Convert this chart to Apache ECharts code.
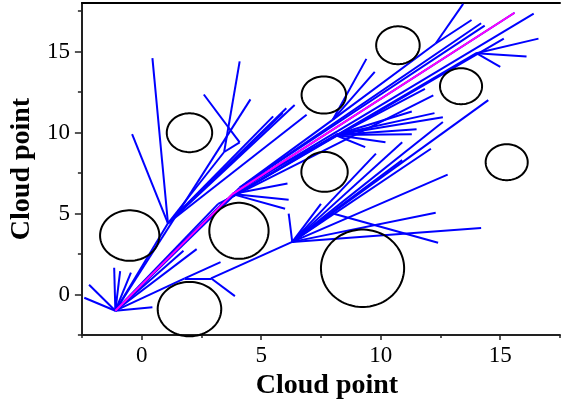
<!DOCTYPE html>
<html><head><meta charset="utf-8">
<script src="https://cdn.jsdelivr.net/npm/echarts@6/dist/echarts.min.js"></script>
<style>html,body{margin:0;padding:0;background:#fff}#c{width:563px;height:405px}</style>
</head><body><div id="c"></div>
<script>
// Axis ticks
const xMajorTicks = [0, 5, 10, 15];
const xMinorTicks = [-2.5, 2.5, 7.5, 12.5, 17.5];
const yMajorTicks = [0, 5, 10, 15];
const yMinorTicks = [-2.5, 2.5, 7.5, 12.5, 17.5];

// Obstacles (ellipse centres and radii in data units)
const obstacleX  = [2.0, 10.72, 7.62, 13.36, 7.65, 15.27, -0.5, 4.07, 2.0, 9.24];
const obstacleY  = [9.99, 15.39, 12.32, 12.86, 7.57, 8.17, 3.64, 3.93, -0.9, 1.62];
const obstacleRx = [0.95, 0.91, 0.93, 0.88, 0.97, 0.88, 1.24, 1.24, 1.33, 1.74];
const obstacleRy = [1.2, 1.17, 1.15, 1.11, 1.23, 1.11, 1.56, 1.73, 1.68, 2.39];

// Tree nodes (x, y, parent index)
const nodeX = [-1.1, -2.4, -2.2, -1.15, -0.9, -0.45, 0.45, 1.8, 3.3, 2.9,
               3.9, 6.3, 1.75, 2.3, 1.1, -0.4, 0.45, 5.5, 5.9, 6.05,
               6.4, 6.9, 3.45, 4.1, 4.1, 2.6, 4.55, 3.8, 4.1, 3.5,
               4.4, 3.2, 14.2, 14.35, 12.3, 13.45, 13.8, 16.4, 15.6, 14.0,
               16.1, 16.6, 15.0, 15.15, 11.85, 12.2, 8.0, 9.4, 9.75, 8.1,
               9.35, 10.2, 11.3, 11.5, 11.3, 12.25, 12.6, 12.6, 6.1, 6.15,
               6.0, 6.15, 7.5, 9.8, 10.9, 12.1, 14.5, 12.8, 12.3, 14.2,
               8.0, 12.4, 10.9];
const nodeY = [-1.0, -0.2, 0.6, 1.65, 1.45, 1.35, -0.78, 1.0, 2.0, 1.0,
               -0.1, 3.25, 2.7, 2.8, 4.4, 9.9, 14.6, 11.0, 11.2, 11.5,
               11.7, 11.1, 8.8, 14.4, 9.4, 12.35, 12.05, 6.2, 6.6, 5.8,
               6.9, 5.6, 16.75, 16.6, 15.5, 17.95, 16.95, 17.35, 17.4, 14.9,
               14.7, 15.8, 14.05, 15.8, 12.7, 12.3, 10.8, 14.55, 13.75, 9.85,
               9.1, 9.4, 9.9, 10.2, 11.3, 11.2, 10.95, 10.65, 6.85, 5.85,
               5.3, 5.0, 5.6, 8.7, 9.4, 9.0, 12.0, 7.4, 5.05, 4.1,
               5.0, 3.2, 8.3];
const nodeParent = [-1, 0, 0, 0, 0, 0, 0, 0, 7, 7,
                    9, 9, 0, 0, 0, 14, 14, 14, 14, 14,
                    14, 14, 14, 22, 22, 24, 0, 0, 0, 0,
                    0, 0, 28, 30, 46, 34, 34, 27, 27, 29,
                    39, 39, 39, 29, 30, 31, 28, 46, 46, 29,
                    49, 49, 49, 49, 49, 49, 49, 11, 27, 27,
                    27, 11, 11, 11, 11, 11, 11, 11, 11, 11,
                    11, 70, 11];

// Final path
const pathX = [-1.1, 3.8, 15.6];
const pathY = [-1.0, 6.2, 17.4];

const edges = [];
for (let i = 0; i < nodeX.length; i++) {
  const p = nodeParent[i];
  if (p >= 0) edges.push({coords: [[nodeX[p], nodeY[p]], [nodeX[i], nodeY[i]]]});
}
const obstacles = obstacleX.map((x, i) => [x, obstacleY[i], obstacleRx[i], obstacleRy[i]]);
const pathData = pathX.map((x, i) => [x, pathY[i]]);

const serif = 'Liberation Serif, Times New Roman, serif';
const axisCol = '#222';
function mkX(idx, extra) {
  return Object.assign({
    type: 'value', min: -2.5, max: 17.5, gridIndex: 0,
    splitLine: {show: false}
  }, extra);
}
function mkY(extra) {
  return Object.assign({
    type: 'value', min: -2.5, max: 18, gridIndex: 0,
    splitLine: {show: false}
  }, extra);
}

const chart = echarts.init(document.getElementById('c'), null, {renderer: 'canvas'});
chart.setOption({
  animation: false,
  backgroundColor: '#fff',
  grid: {left: 78, right: 3, top: 3, bottom: 70, containLabel: false},
  xAxis: [
    mkX(0, {
      position: 'bottom',
      axisLine: {show: true, onZero: false, lineStyle: {color: axisCol, width: 2}},
      axisTick: {show: true, customValues: xMajorTicks, length: 5, lineStyle: {color: axisCol, width: 1.5}},
      axisLabel: {customValues: xMajorTicks, fontFamily: serif, fontSize: 23, color: '#000', margin: 9},
      name: 'Cloud point', nameLocation: 'middle', nameGap: 33,
      nameTextStyle: {fontFamily: serif, fontSize: 28, fontWeight: 'bold', color: '#000', padding: [0, 0, 0, 12]}
    }),
    mkX(1, {
      position: 'bottom',
      axisLine: {show: false, onZero: false},
      axisTick: {show: true, customValues: xMinorTicks, length: 3, lineStyle: {color: axisCol, width: 1.5}},
      axisLabel: {show: false}
    }),
    mkX(2, {
      position: 'top',
      axisLine: {show: true, onZero: false, lineStyle: {color: '#000', width: 2}},
      axisTick: {show: false},
      axisLabel: {show: false}
    })
  ],
  yAxis: [
    mkY({
      position: 'left',
      axisLine: {show: true, onZero: false, lineStyle: {color: axisCol, width: 2}},
      axisTick: {show: true, customValues: yMajorTicks, length: 7, lineStyle: {color: axisCol, width: 1.5}},
      axisLabel: {customValues: yMajorTicks, fontFamily: serif, fontSize: 23, color: '#000', margin: 12},
      name: 'Cloud point', nameLocation: 'middle', nameGap: 40, nameRotate: 90,
      nameTextStyle: {fontFamily: serif, fontSize: 28, fontWeight: 'bold', color: '#000'}
    }),
    mkY({
      position: 'left',
      axisLine: {show: false, onZero: false},
      axisTick: {show: true, customValues: yMinorTicks, length: 4, lineStyle: {color: axisCol, width: 1.5}},
      axisLabel: {show: false}
    })
  ],
  series: [
    {
      type: 'lines', coordinateSystem: 'cartesian2d', xAxisIndex: 0, yAxisIndex: 0,
      data: edges, silent: true,
      lineStyle: {color: '#0000ff', width: 2, opacity: 1, curveness: 0}
    },
    {
      type: 'line', xAxisIndex: 0, yAxisIndex: 0, data: pathData,
      symbol: 'none', silent: true,
      lineStyle: {color: '#ff00ff', width: 2}
    },
    {
      type: 'custom', xAxisIndex: 0, yAxisIndex: 0, data: obstacles,
      encode: {x: 0, y: 1}, silent: true,
      renderItem: function (params, api) {
        const c = api.coord([api.value(0), api.value(1)]);
        const s = api.size([api.value(2), api.value(3)]);
        const pts = [];
        const n = 90;
        for (let k = 0; k < n; k++) {
          const t = 2 * Math.PI * k / n;
          pts.push([c[0] + s[0] * Math.cos(t), c[1] + s[1] * Math.sin(t)]);
        }
        return {type: 'polygon', shape: {points: pts},
                style: {fill: 'none', stroke: '#000', lineWidth: 2}};
      }
    }
  ]
});
</script>
</body></html>
